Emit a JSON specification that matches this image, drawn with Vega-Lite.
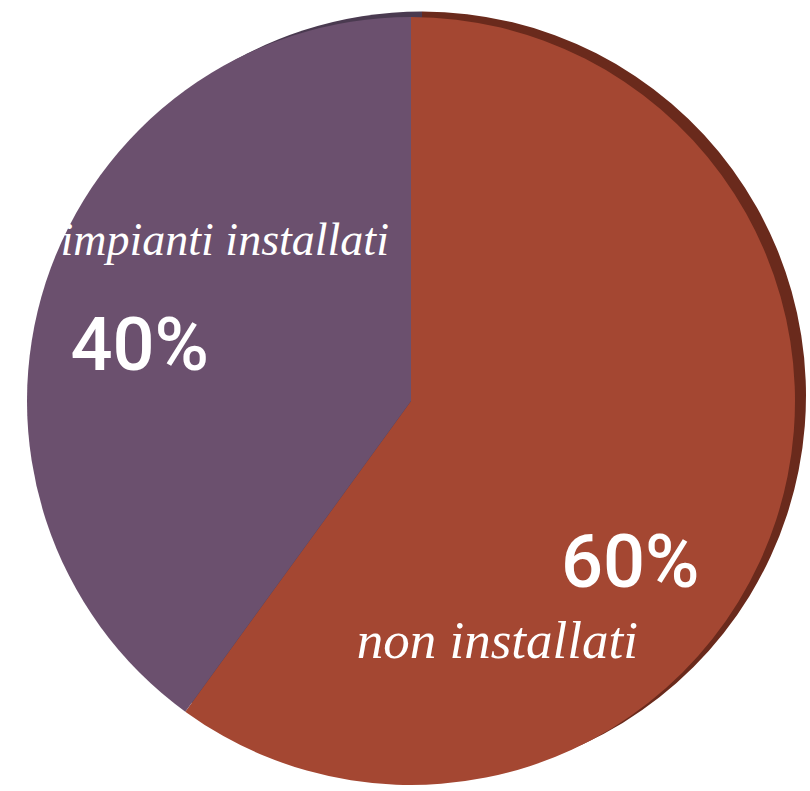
{
  "$schema": "https://vega.github.io/schema/vega-lite/v6.json",
  "width": 810,
  "height": 791,
  "padding": 0,
  "autosize": {"type": "none"},
  "background": "#ffffff",
  "config": {"view": {"stroke": null}},
  "data": {"values": [
    {"category": "non installati", "value": 60, "pct": "60%"},
    {"category": "impianti installati", "value": 40, "pct": "40%"}
  ]},
  "encoding": {
    "theta": {"field": "value", "type": "quantitative", "stack": true},
    "order": {"field": "value", "sort": "descending"}
  },
  "layer": [
    {
      "mark": {"type": "arc", "outerRadius": 384, "xOffset": 17, "yOffset": 0},
      "encoding": {
        "color": {"field": "category", "type": "nominal", "legend": null,
          "scale": {"domain": ["non installati", "impianti installati"], "range": ["#6a2a1c", "#4a3a50"]}}
      }
    },
    {
      "mark": {"type": "arc", "outerRadius": 384, "xOffset": 6, "yOffset": 5.5},
      "encoding": {
        "fill": {"field": "category", "type": "nominal", "legend": null,
          "scale": {"domain": ["non installati", "impianti installati"], "range": ["#a44732", "#6b506e"]}}
      }
    },
    {
      "mark": {"type": "text", "radius": 260, "dx": 67, "dy": -60, "font": "Liberation Serif", "fontStyle": "italic", "fontSize": 46, "fill": "#ffffff", "align": "center", "baseline": "alphabetic"},
      "encoding": {"text": {"condition": {"test": "datum.category == 'impianti installati'", "field": "category"}, "value": ""}}
    },
    {
      "mark": {"type": "text", "radius": 260, "dx": -18, "dy": 55, "font": "Roboto", "fontWeight": 500, "fontSize": 74, "fill": "#ffffff", "align": "center", "baseline": "alphabetic"},
      "encoding": {"text": {"condition": {"test": "datum.category == 'impianti installati'", "field": "pct"}, "value": ""}}
    },
    {
      "mark": {"type": "text", "radius": 260, "dx": -22, "dy": 111, "font": "Roboto", "fontWeight": 500, "fontSize": 74, "fill": "#ffffff", "align": "center", "baseline": "alphabetic"},
      "encoding": {"text": {"condition": {"test": "datum.category == 'non installati'", "field": "pct"}, "value": ""}}
    },
    {
      "mark": {"type": "text", "radius": 260, "dx": -155, "dy": 182, "font": "Liberation Serif", "fontStyle": "italic", "fontSize": 53, "fill": "#ffffff", "align": "center", "baseline": "alphabetic"},
      "encoding": {"text": {"condition": {"test": "datum.category == 'non installati'", "field": "category"}, "value": ""}}
    }
  ],
  "resolve": {"scale": {"color": "independent", "fill": "independent"}}
}
